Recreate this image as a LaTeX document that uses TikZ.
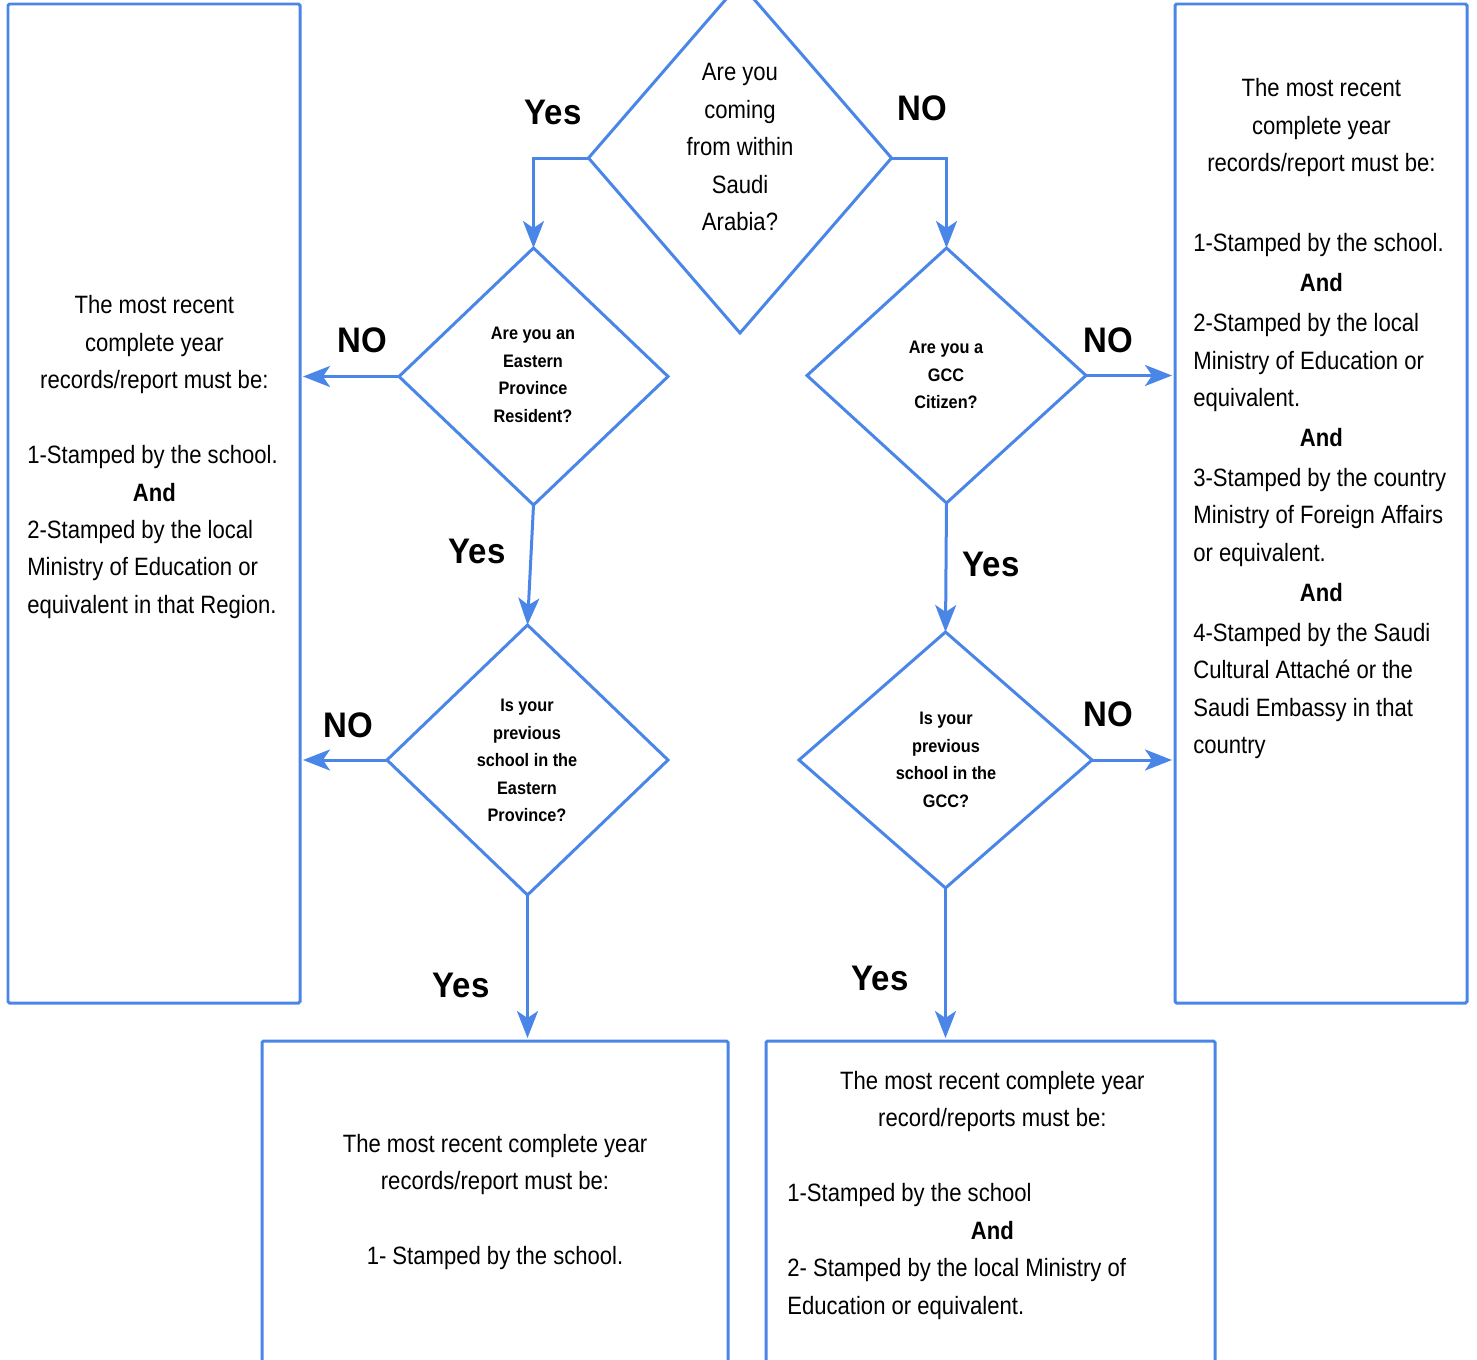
\documentclass[tikz,border=0pt]{standalone}
\usepackage{fontspec}
\setmainfont{Liberation Sans}[FakeStretch=0.88]
\newfontfamily\lblfont{Liberation Sans}[FakeStretch=0.93]
\newfontfamily\qfont{Liberation Sans}[FakeStretch=0.9]
\usetikzlibrary{arrows.meta,shapes.geometric}
\newlength\pxu
\setlength\pxu{0.02cm}
\definecolor{gblue}{RGB}{74,134,232}
\tikzset{
  boxnode/.style={draw=gblue, line width=0.06cm, rectangle, inner sep=0pt, outer sep=0pt, rounded corners=0.03cm},
  decision/.style={draw=gblue, line width=0.06cm, diamond, inner sep=0pt, outer sep=0pt},
  conn/.style={draw=gblue, line width=0.06cm, -{Stealth[length=0.54cm, width=0.42cm, inset=0.14cm]}},
  boxtext/.style={inner sep=0pt, font=\fontsize{14.28}{21.34}\selectfont},
  qtext/.style={inner sep=0pt, align=center, font=\qfont\bfseries\fontsize{10.3}{15.65}\selectfont},
  lbl/.style={inner sep=0pt, font=\lblfont\bfseries\fontsize{20.2}{24}\selectfont},
}
\begin{document}
\begin{tikzpicture}[x=0.02cm, y=-0.02cm]
\useasboundingbox (0,0) rectangle (1477,1359);
\clip (0,0) rectangle (1477,1359);

% boxes
\node[boxnode, minimum width=292\pxu, minimum height=999\pxu] (lbox) at (154,503.5) {};
\node[boxnode, minimum width=292\pxu, minimum height=999\pxu] (rbox) at (1321,503.5) {};
\node[boxnode, minimum width=466\pxu, minimum height=340\pxu] (bl) at (495,1211) {};
\node[boxnode, minimum width=449\pxu, minimum height=340\pxu] (br) at (990.5,1211) {};

% decisions
\node[decision, minimum width=303\pxu, minimum height=350\pxu] (top) at (740,158) {};
\node[decision, minimum width=269\pxu, minimum height=257\pxu] (d2) at (533.5,376.5) {};
\node[decision, minimum width=279\pxu, minimum height=255\pxu] (d3) at (946.5,375.5) {};
\node[decision, minimum width=281\pxu, minimum height=270\pxu] (d4) at (527.5,760) {};
\node[decision, minimum width=293\pxu, minimum height=256\pxu] (d5) at (945.5,760) {};

% decision texts
\node[boxtext, align=center, anchor=north] (toptxt) at (740,63)
  {Are you\\coming\\from within\\Saudi\\Arabia?};
\node[qtext, anchor=north] (d2txt) at (533,327) {Are you an\\Eastern\\Province\\Resident?};
\node[qtext, anchor=north] (d3txt) at (946,341) {Are you a\\GCC\\Citizen?};
\node[qtext, anchor=north] (d4txt) at (527,699) {Is your\\previous\\school in the\\Eastern\\Province?};
\node[qtext, anchor=north] (d5txt) at (946,712) {Is your\\previous\\school in the\\GCC?};

% box texts
\node[boxtext, anchor=north west, text width=254\pxu, align=flush left] (ltxt) at (27,295)
  {\makebox[\linewidth]{The most recent}\\
   \makebox[\linewidth]{complete year}\\
   \makebox[\linewidth]{records/report must be:}\\[21.34pt]
   \mbox{1-Stamped by the school.}\\
   \makebox[\linewidth]{\bfseries And}\\
   \mbox{2-Stamped by the local}\\
   \mbox{Ministry of Education or}\\
   \mbox{equivalent in that Region.}};

\node[boxtext, anchor=north west, text width=256\pxu, align=flush left] (rtxt) at (1193,78)
  {\makebox[\linewidth]{The most recent}\\
   \makebox[\linewidth]{complete year}\\
   \makebox[\linewidth]{records/report must be:}\\[24.2pt]
   \mbox{1-Stamped by the school.}\\[1.42pt]
   \makebox[\linewidth]{\bfseries And}\\[1.42pt]
   \mbox{2-Stamped by the local}\\
   \mbox{Ministry of Education or}\\
   \mbox{equivalent.}\\[1.42pt]
   \makebox[\linewidth]{\bfseries And}\\[1.42pt]
   \mbox{3-Stamped by the country}\\
   \mbox{Ministry of Foreign Affairs}\\
   \mbox{or equivalent.}\\[1.42pt]
   \makebox[\linewidth]{\bfseries And}\\[1.42pt]
   \mbox{4-Stamped by the Saudi}\\
   \mbox{Cultural Attaché or the}\\
   \mbox{Saudi Embassy in that}\\
   \mbox{country}};

\node[boxtext, anchor=north, align=center] (bltxt) at (495,1133.5)
  {The most recent complete year\\
   records/report must be:\\[21.34pt]
   1- Stamped by the school.};

\node[boxtext, anchor=north west, text width=410\pxu, align=flush left] (brtxt) at (787,1070.5)
  {\makebox[\linewidth]{The most recent complete year}\\
   \makebox[\linewidth]{record/reports must be:}\\[21.34pt]
   \mbox{1-Stamped by the school}\\
   \makebox[\linewidth]{\bfseries And}\\
   \mbox{2- Stamped by the local Ministry of}\\
   \mbox{Education or equivalent.}};

% connectors
\draw[conn] (top.west) -| (d2.north);
\draw[conn] (top.east) -| (d3.north);
\draw[conn, shorten >=0.06cm] (d2.west) -- (d2.west -| lbox.east);
\draw[conn, shorten >=0.06cm] (d3.east) -- (d3.east -| rbox.west);
\draw[conn, shorten >=0.06cm] (d4.west) -- (d4.west -| lbox.east);
\draw[conn, shorten >=0.06cm] (d5.east) -- (d5.east -| rbox.west);
\draw[conn] (d2.south) -- (d4.north);
\draw[conn] (d3.south) -- (d5.north);
\draw[conn, shorten >=0.06cm] (d4.south) -- (d4.south |- bl.north);
\draw[conn, shorten >=0.06cm] (d5.south) -- (d5.south |- br.north);

% labels
\node[lbl] (yes1) at (553,112) {Yes};
\node[lbl] (no1) at (922,108) {NO};
\node[lbl] (no2) at (362,340) {NO};
\node[lbl] (yes2) at (477,551) {Yes};
\node[lbl] (no3) at (1108,340) {NO};
\node[lbl] (yes3) at (991,564) {Yes};
\node[lbl] (no4) at (348,725) {NO};
\node[lbl] (yes4) at (461,985) {Yes};
\node[lbl] (no5) at (1108,714) {NO};
\node[lbl] (yes5) at (880,978) {Yes};
\end{tikzpicture}
\end{document}
